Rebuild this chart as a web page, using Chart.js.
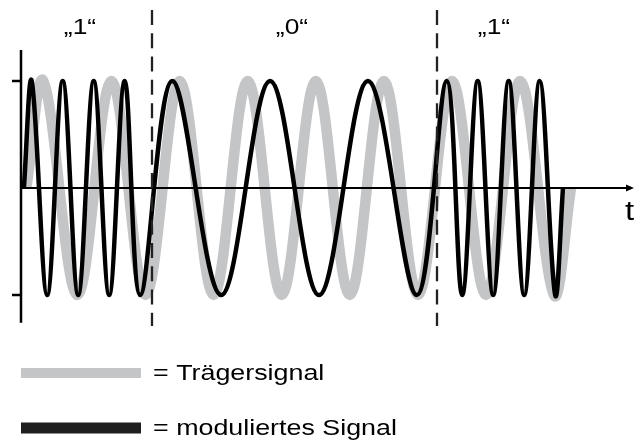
<!DOCTYPE html>
<html lang="de">
<head>
<meta charset="utf-8">
<title>FSK</title>
<script src="https://cdn.jsdelivr.net/npm/chart.js@4.4.1/dist/chart.umd.min.js"></script>
<style>
    html, body { margin: 0; padding: 0; background: #fff; }
    #wrap { width: 634px; height: 443px; }
</style>
</head>
<body>
<div id="wrap"><canvas id="fskChart" width="634" height="443"></canvas></div>
<script>
// Values: start/end zero and every peak / trough
// (time in arbitrary units, amplitude -1..1)
const carrierTime = [5.3, 22.3, 56.4, 90.4, 124.5, 158.6, 192.6, 226.7, 260.7,
    294.8, 328.8, 362.9, 397, 431, 465, 499, 533, 550];
const carrierLevel = [0, 1, -1, 1, -1, 1, -1, 1, -1,
    1, -1, 1, -1, 1, -1, 1, -1, 0];

const modTime = [2.9, 10.7, 26.2, 41.7, 57.2, 72.7, 88.2, 103.7, 119.2,
    151.3, 200.2, 249.1, 298, 346.9, 395.8,
    425.7, 441.2, 456.7, 472.2, 487.7, 503.2, 518.7, 534.2, 542];
const modLevel = [0, 1, -1, 1, -1, 1, -1, 1, -1,
    1, -1, 1, -1, 1, -1,
    1, -1, 1, -1, 1, -1, 1, -1, 0];

const bitBoundaries = [131, 416];
const bitLabels = ['\u201E1\u201C', '\u201E0\u201C', '\u201E1\u201C'];
const bitLabelTime = [59, 271, 473];

const seriesNames = ['= moduliertes Signal', '= Trägersignal'];

document.addEventListener('DOMContentLoaded', function() {
    initializeChart();
});

// draws text stretched horizontally like the original artwork
function stretchedText(ctx, text, x, y, align, sx) {
    ctx.save();
    ctx.translate(x, y);
    ctx.scale(sx || 1.22, 1);
    ctx.textAlign = align;
    ctx.fillText(text, 0, 0);
    ctx.restore();
}

// axes, bit boundaries, labels and legend
const fskDecor = {
    id: 'fskDecor',
    afterDatasetsDraw(chart) {
        const ctx = chart.ctx;
        const xs = chart.scales.x;
        const ys = chart.scales.y;
        const x0 = xs.getPixelForValue(0);
        const y0 = ys.getPixelForValue(0);

        ctx.save();
        ctx.strokeStyle = '#000';
        ctx.fillStyle = '#000';

        // time axis with arrow
        ctx.lineWidth = 2;
        ctx.beginPath();
        ctx.moveTo(x0, y0);
        ctx.lineTo(chart.width - 4, y0);
        ctx.stroke();
        ctx.beginPath();
        ctx.moveTo(chart.width, y0);
        ctx.lineTo(chart.width - 8, y0 - 3.5);
        ctx.lineTo(chart.width - 8, y0 + 3.5);
        ctx.closePath();
        ctx.fill();

        // amplitude axis with ticks at +1 / -1
        ctx.lineWidth = 2.5;
        ctx.beginPath();
        ctx.moveTo(x0, ys.getPixelForValue(1.29));
        ctx.lineTo(x0, ys.getPixelForValue(-1.26));
        [1, -1].forEach(function(v) {
            ctx.moveTo(x0 - 9, ys.getPixelForValue(v));
            ctx.lineTo(x0, ys.getPixelForValue(v));
        });
        ctx.stroke();

        // bit boundaries
        ctx.strokeStyle = '#222';
        ctx.lineWidth = 2.3;
        ctx.setLineDash([15, 8.3]);
        bitBoundaries.forEach(function(t) {
            const px = xs.getPixelForValue(t);
            ctx.beginPath();
            ctx.moveTo(px, ys.getPixelForValue(1.664));
            ctx.lineTo(px, ys.getPixelForValue(-1.29));
            ctx.stroke();
        });
        ctx.setLineDash([]);

        // bit labels
        ctx.font = '22px "Liberation Sans", Arial, sans-serif';
        ctx.textBaseline = 'alphabetic';
        bitLabels.forEach(function(lbl, i) {
            stretchedText(ctx, lbl, xs.getPixelForValue(bitLabelTime[i]), 34, 'center', 1.2);
        });

        // t label
        ctx.font = '27px "Liberation Sans", Arial, sans-serif';
        stretchedText(ctx, 't', 625, 220, 'left');

        // legend
        const ds = chart.data.datasets;
        const rows = [
            { color: ds[1].borderColor, h: 10, cy: 373, text: ds[1].label },
            { color: '#1f1f1f', h: 11, cy: 428, text: ds[0].label }
        ];
        ctx.font = '22px "Liberation Sans", Arial, sans-serif';
        rows.forEach(function(r) {
            ctx.fillStyle = r.color;
            ctx.fillRect(21, r.cy - r.h / 2, 120, r.h);
            ctx.fillStyle = '#000';
            stretchedText(ctx, r.text, 153, r.cy + 7, 'left');
        });
        ctx.restore();
    }
};

function initializeChart() {
    const ctx = document.getElementById('fskChart').getContext('2d');
    const fskChart = new Chart(ctx, {
        type: 'line',
        data: {
            datasets: [{
                label: seriesNames[0],
                data: modTime.map(function(t, i) { return { x: t, y: modLevel[i] }; }),
                borderColor: '#000',
                borderWidth: 4.5,
                borderJoinStyle: 'round',
                borderCapStyle: 'butt',
                tension: 0.36,
                pointRadius: 0,
                fill: false
            }, {
                label: seriesNames[1],
                data: carrierTime.map(function(t, i) { return { x: t, y: carrierLevel[i] }; }),
                borderColor: '#c4c5c7',
                borderWidth: 10.5,
                borderJoinStyle: 'round',
                borderCapStyle: 'butt',
                tension: 0.36,
                pointRadius: 0,
                fill: false
            }]
        },
        options: {
            responsive: false,
            animation: false,
            devicePixelRatio: 1,
            layout: { padding: 0 },
            scales: {
                x: { type: 'linear', min: -21, max: 613, display: false },
                y: { type: 'linear', min: -2.383, max: 1.757, display: false }
            },
            plugins: {
                legend: { display: false },
                tooltip: { enabled: false }
            }
        },
        plugins: [fskDecor]
    });
}
</script>
</body>
</html>
